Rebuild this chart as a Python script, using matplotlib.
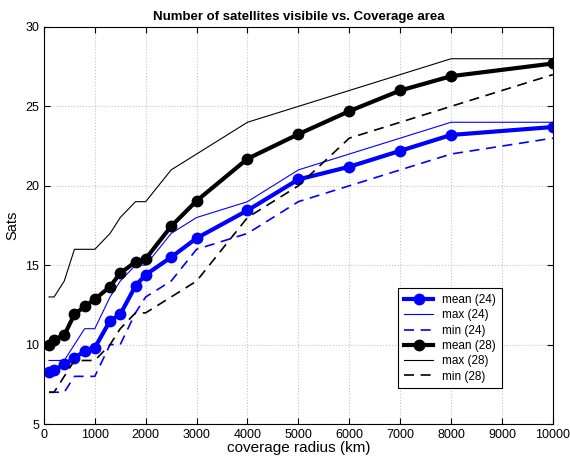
import matplotlib
matplotlib.use("Agg")
import matplotlib.pyplot as plt

radius_km = [100, 200, 400, 600, 800, 1000, 1300, 1500, 1800, 2000, 2500, 3000,
             4000, 5000, 6000, 7000, 8000, 10000]
mean24 = [8.3, 8.4, 8.75, 9.15, 9.6, 9.8, 11.5, 11.9, 13.7, 14.4, 15.5, 16.7,
          18.45, 20.4, 21.2, 22.2, 23.2, 23.7]
max24 = [9, 9, 9, 10, 11, 11, 13, 14, 15, 15, 17, 18, 19, 21, 22, 23, 24, 24]
min24 = [7, 7, 7, 8, 8, 8, 10, 10, 12, 13, 14, 16, 17, 19, 20, 21, 22, 23]
mean28 = [9.95, 10.3, 10.6, 11.9, 12.4, 12.85, 13.65, 14.5, 15.2, 15.4, 17.45, 19.05,
          21.7, 23.25, 24.7, 26.0, 26.9, 27.7]
max28 = [13, 13, 14, 16, 16, 16, 17, 18, 19, 19, 21, 22, 24, 25, 26, 27, 28, 28]
min28 = [7, 7, 8, 9, 9, 9, 10, 11, 12, 12, 13, 14, 18, 20, 23, 24, 25, 27]

xticks = list(range(0, 10001, 1000))
yticks = [5, 10, 15, 20, 25, 30]

plt.rcParams['font.family'] = ['Liberation Sans', 'DejaVu Sans']

fig = plt.figure(figsize=(5.7, 4.57), dpi=100)
ax = fig.add_axes([0.077, 0.0722, 0.893, 0.8688])

ax.plot(radius_km, mean24, '-o', color='blue', lw=3, ms=7.5, label='mean (24)')
ax.plot(radius_km, max24, '-', color='blue', lw=0.8, label='max (24)')
ax.plot(radius_km, min24, '--', color='blue', lw=1.2, dashes=(6, 4), label='min (24)')
ax.plot(radius_km, mean28, '-o', color='black', lw=3, ms=7.5, label='mean (28)')
ax.plot(radius_km, max28, '-', color='black', lw=0.8, label='max (28)')
ax.plot(radius_km, min28, '--', color='black', lw=1.2, dashes=(6, 4), label='min (28)')

ax.set_xlim(0, 10000)
ax.set_ylim(5, 30)
ax.set_xticks(xticks)
ax.set_yticks(yticks)
ax.tick_params(direction='in', top=True, right=True, labelsize=9, length=4)
ax.grid(True, linestyle=':', color='#c4c4c4', linewidth=0.8)
for s in ax.spines.values():
    s.set_linewidth(0.8)

ax.set_title('Number of satellites visibile vs. Coverage area', fontsize=9.5,
             fontweight='bold', pad=5)
ax.set_xlabel('coverage radius (km)', fontsize=11, labelpad=0)
ax.set_ylabel('Sats', fontsize=10.5, labelpad=4)

leg = ax.legend(loc='upper left', bbox_to_anchor=(0.685, 0.357), fontsize=8.5,
                fancybox=False, edgecolor='black', framealpha=1,
                handlelength=2.4, borderpad=0.5, labelspacing=0.28)
leg.get_frame().set_linewidth(0.8)

fig.savefig('out.png', dpi=100)
